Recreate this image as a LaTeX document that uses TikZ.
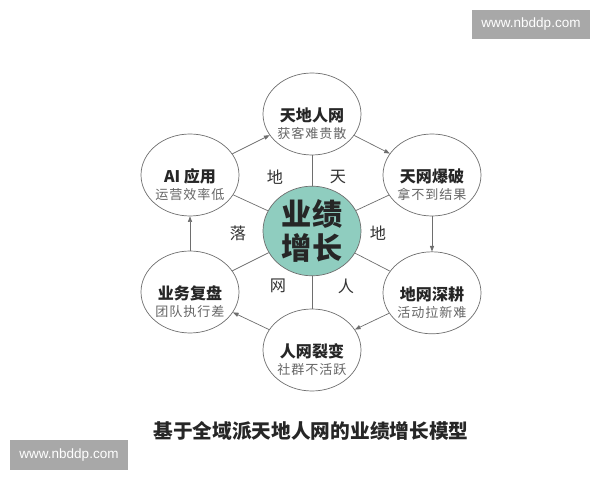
\documentclass[tikz,border=0pt]{standalone}
\usepackage{fontspec}
\setmainfont{Noto Sans CJK SC}
\newfontfamily\subfont[LetterSpace=7]{Noto Sans CJK SC}
\newfontfamily\webfont{Liberation Sans}
\usetikzlibrary{shapes.geometric,arrows.meta}
\definecolor{hubgreen}{HTML}{8FCDBF}
\definecolor{wmgray}{HTML}{A8A8A8}
\definecolor{edgegray}{HTML}{6E6E6E}
\begin{document}
\begin{tikzpicture}[
        bubble/.style = {ellipse, draw = edgegray, line width = 0.5pt, fill = white,
                         minimum width = 2.45cm, minimum height = 2.05cm, inner sep = 0pt},
        hub/.style = {bubble, fill = hubgreen, align = center, text = black!85,
                      font = \fontsize{21.5}{24.5}\selectfont\bfseries},
        head/.style = {yshift = -0.03cm, text = black!85, inner sep = 0pt,
                       font = \fontsize{11.4}{12}\selectfont\bfseries},
        sub/.style = {yshift = -0.48cm, text = black!60, inner sep = 0pt,
                      font = \subfont\fontsize{9.3}{10}\selectfont},
        tag/.style = {text = black!80, font = \fontsize{11.5}{12}\selectfont},
        spoke/.style = {draw = edgegray, line width = 0.5pt},
        ring/.style = {draw = edgegray, line width = 0.5pt, -{Triangle[length = 4pt, width = 3pt]}},
        wm/.style = {fill = wmgray, text = white, inner sep = 0pt, minimum width = 2.95cm,
                     minimum height = 0.73cm, font = \webfont\fontsize{9.6}{10}\selectfont}
    ]
    \useasboundingbox (0,0) rectangle (15,12);
    % outer ring
    \node[bubble, label = {[head]center:天地人网}, label = {[sub]center:获客难贵散}] (tian) at (7.8,9.15) {};
    \node[bubble, label = {[head]center:天网爆破}, label = {[sub]center:拿不到结果}] (bao) at (10.8,7.625) {};
    \node[bubble, label = {[head]center:地网深耕}, label = {[sub]center:活动拉新难}] (geng) at (10.8,4.68) {};
    \node[bubble, label = {[head]center:人网裂变}, label = {[sub]center:社群不活跃}] (lie) at (7.8,3.25) {};
    \node[bubble, label = {[head]center:业务复盘}, label = {[sub]center:团队执行差}] (pan) at (4.75,4.7) {};
    \node[bubble, label = {[head]center:AI 应用}, label = {[sub]center:运营效率低}] (ai) at (4.75,7.625) {};
    % centre
    \node[hub] (hub) at (7.8,6.225) {业绩\\增长};
    \draw[spoke] (hub) -- (tian);
    \draw[spoke] (hub) -- (bao);
    \draw[spoke] (hub) -- (geng);
    \draw[spoke] (hub) -- (lie);
    \draw[spoke] (hub) -- (pan);
    \draw[spoke] (hub) -- (ai);
    \draw[ring] (ai) -- (tian);
    \draw[ring] (tian) -- (bao);
    \draw[ring] (bao) -- (geng);
    \draw[ring] (geng) -- (lie);
    \draw[ring] (lie) -- (pan);
    \draw[ring] (pan) -- (ai);
    \node[tag] (di1) at (6.875,7.575) {地};
    \node[tag] (tian1) at (8.45,7.575) {天};
    \node[tag] (luo) at (5.95,6.175) {落};
    \node[tag] (di2) at (9.45,6.175) {地};
    \node[tag] (wang) at (6.95,4.85) {网};
    \node[tag] (ren) at (8.65,4.85) {人};
    \node[text = black!85, font = \fontsize{14}{16}\selectfont\bfseries] (caption) at (7.775,1.225) {基于全域派天地人网的业绩增长模型};
    % watermarks
    \node[wm] (wm-top) at (13.275,11.39) {www.nbddp.com};
    \node[wm] (wm-bottom) at (1.725,0.625) {www.nbddp.com};
\end{tikzpicture}
\end{document}
